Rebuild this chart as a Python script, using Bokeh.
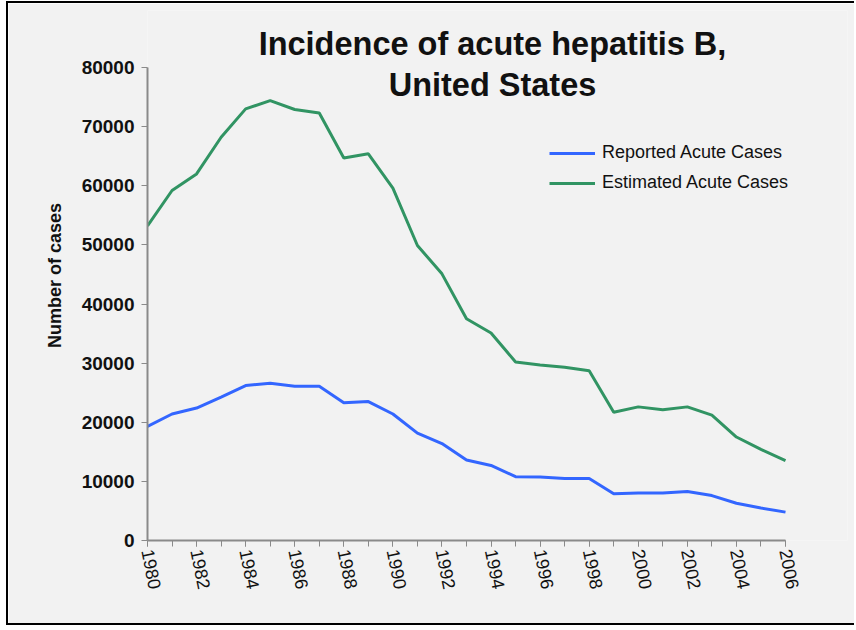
from bokeh.plotting import figure
from bokeh.models import Range1d, FixedTicker, Label, Legend, LegendItem, NumeralTickFormatter
from bokeh.embed import file_html
from bokeh.resources import INLINE

# ---- data ----
years = [1980, 1981, 1982, 1983, 1984, 1985, 1986, 1987, 1988, 1989,
         1990, 1991, 1992, 1993, 1994, 1995, 1996, 1997, 1998, 1999,
         2000, 2001, 2002, 2003, 2004, 2005, 2006]
reported = [19300, 21400, 22400, 24250, 26200, 26600, 26100, 26100, 23300, 23500,
            21400, 18150, 16400, 13600, 12700, 10800, 10750, 10500, 10500, 7900,
            8050, 8050, 8300, 7600, 6300, 5500, 4800]
estimated = [53200, 59200, 62000, 68200, 73000, 74400, 72900, 72300, 64700, 65400,
             59600, 49900, 45100, 37500, 35100, 30200, 29700, 29300, 28700, 21700,
             22600, 22100, 22600, 21200, 17500, 15400, 13500]
y_ticks = [0, 10000, 20000, 30000, 40000, 50000, 60000, 70000, 80000]
x_label_years = [1980, 1982, 1984, 1986, 1988, 1990, 1992, 1994, 1996, 1998,
                 2000, 2002, 2004, 2006]
title_lines = ["Incidence of acute hepatitis B,", "United States"]
series_names = ["Reported Acute Cases", "Estimated Acute Cases"]
x_axis_bounds = (1980, 2006)
y_axis_bounds = (0, 80000)

BG = "#f2f2f2"
FONT = "Liberation Sans"

# layout (pixels): canvas 848 x 624, with a 2px black border (left/top/bottom) outside it
CANVAS_W, CANVAS_H = 848, 624
LEFT, RIGHT, TOP, BOTTOM = 139, 9, 7, 87
AXIS_W, AXIS_H = 638, 473          # pixel length of the drawn axes
frame_w = CANVAS_W - LEFT - RIGHT
frame_h = CANVAS_H - TOP - BOTTOM
x_end = x_axis_bounds[0] + (x_axis_bounds[1] - x_axis_bounds[0]) * frame_w / AXIS_W
y_end = y_axis_bounds[0] + (y_axis_bounds[1] - y_axis_bounds[0]) * frame_h / AXIS_H

p = figure(width=CANVAS_W, height=CANVAS_H,
           x_range=Range1d(x_axis_bounds[0], x_end),
           y_range=Range1d(y_axis_bounds[0], y_end),
           output_backend="svg", toolbar_location=None,
           min_border_left=LEFT, min_border_right=RIGHT,
           min_border_top=TOP, min_border_bottom=BOTTOM,
           background_fill_color=BG, border_fill_color=BG)
p.styles = {"margin-left": "6px", "margin-top": "1px",
            "border-left": "2px solid #000000",
            "border-top": "2px solid #000000",
            "border-bottom": "2px solid #000000"}

p.xgrid.visible = False
p.ygrid.visible = False
p.outline_line_color = None

r1 = p.line(years, reported, line_color="#3366ff", line_width=3)
r2 = p.line(years, estimated, line_color="#319463", line_width=3)

# y axis
ya = p.yaxis[0]
ya.bounds = y_axis_bounds
ya.ticker = FixedTicker(ticks=y_ticks)
ya.formatter = NumeralTickFormatter(format="0")
ya.axis_line_color = "#8a8a8a"
ya.axis_line_width = 2
ya.major_tick_line_color = "#8a8a8a"
ya.major_tick_out = 6
ya.major_tick_in = 0
ya.minor_tick_line_color = None
ya.major_label_text_font = FONT
ya.major_label_text_font_style = "bold"
ya.major_label_text_font_size = "19px"
ya.major_label_text_color = "#111111"
ya.major_label_standoff = 7
ya.axis_label = "Number of cases"
ya.axis_label_text_font = FONT
ya.axis_label_text_font_style = "bold"
ya.axis_label_text_font_size = "18px"
ya.axis_label_text_color = "#111111"
ya.axis_label_standoff = 14

# x axis
xa = p.xaxis[0]
xa.bounds = x_axis_bounds
xa.ticker = FixedTicker(ticks=x_label_years, minor_ticks=years)
xa.axis_line_color = "#8a8a8a"
xa.axis_line_width = 2
xa.major_tick_line_color = "#8a8a8a"
xa.minor_tick_line_color = "#8a8a8a"
xa.major_tick_out = 6
xa.major_tick_in = 0
xa.minor_tick_out = 6
xa.minor_tick_in = 0
xa.major_label_orientation = -1.37
xa.major_label_text_font = FONT
xa.major_label_text_font_size = "18px"
xa.major_label_text_color = "#111111"
xa.major_label_standoff = 3

# title (two centred lines), positioned in screen px from the frame's bottom-left
for txt, sy in [(title_lines[0], 497), (title_lines[1], 456)]:
    p.add_layout(Label(x=345, y=sy, x_units="screen", y_units="screen", text=txt,
                       text_align="center", text_baseline="alphabetic",
                       text_font=FONT, text_font_style="bold",
                       text_font_size="32.5px", text_color="#111111"))

legend = Legend(items=[LegendItem(label=series_names[0], renderers=[r1]),
                       LegendItem(label=series_names[1], renderers=[r2])],
                location=(402, 347), padding=0, margin=0, spacing=9,
                glyph_height=20, label_height=20, glyph_width=46,
                label_standoff=7, label_text_font=FONT,
                label_text_font_size="18px", label_text_color="#111111",
                background_fill_alpha=0, border_line_alpha=0)
p.add_layout(legend)

open("out.html", "w").write(file_html(p, INLINE))
